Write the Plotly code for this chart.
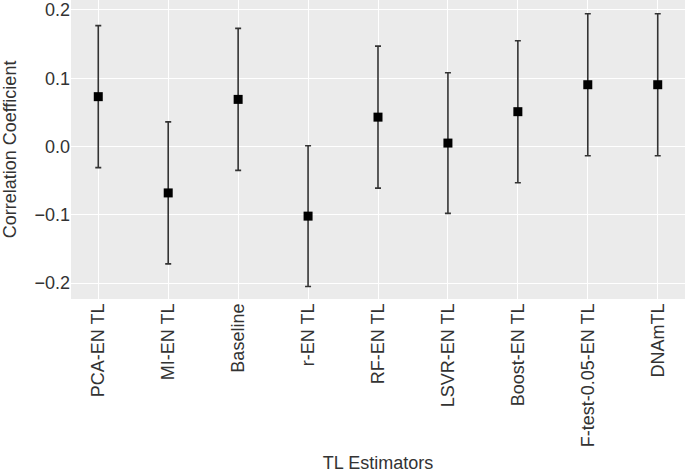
import plotly.graph_objects as go

estimators = ["PCA-EN TL", "MI-EN TL", "Baseline", "r-EN TL", "RF-EN TL",
              "LSVR-EN TL", "Boost-EN TL", "F-test-0.05-EN TL", "DNAmTL"]
corr_mean = [0.073, -0.068, 0.069, -0.102, 0.043, 0.005, 0.051, 0.0905, 0.0905]
corr_err = [0.104, 0.104, 0.104, 0.103, 0.104, 0.103, 0.104, 0.104, 0.104]
y_ticks = [-0.2, -0.1, 0.0, 0.1, 0.2]
y_tick_text = ["\u22120.2", "\u22120.1", "0.0", "0.1", "0.2"]

fig = go.Figure()
fig.add_trace(go.Scatter(
    x=list(range(len(estimators))), y=corr_mean,
    mode="markers",
    marker=dict(symbol="square", size=9, color="black"),
    error_y=dict(type="data", array=corr_err, visible=True,
                 color="#333333", thickness=1.6, width=3),
    showlegend=False,
))

font = "Liberation Sans, Arial, sans-serif"
fig.update_layout(
    width=685, height=473,
    margin=dict(l=71, r=0, t=0, b=174),
    paper_bgcolor="white", plot_bgcolor="#EBEBEB",
    font=dict(family=font, size=18, color="#333333"),
    xaxis=dict(
        range=[-0.39, 8.39], automargin=False,
        tickmode="array", tickvals=list(range(len(estimators))), ticktext=estimators,
        tickangle=-90, showgrid=True, gridcolor="white", gridwidth=1.2,
        zeroline=False, showline=False, ticks="",
        tickfont=dict(size=18, color="#333333"),
        title=dict(text="TL Estimators", font=dict(size=18, color="#333333")),
    ),
    yaxis=dict(
        range=[-0.2234, 0.2146], automargin=False,
        tickmode="array", tickvals=y_ticks, ticktext=y_tick_text,
        showgrid=True, gridcolor="white", gridwidth=1.2,
        zeroline=False, showline=False, ticks="",
        tickfont=dict(size=18, color="#333333"),
        title=dict(text="Correlation Coefficient", font=dict(size=18, color="#333333")),
    ),
)
fig.write_html("out.html",
               config={"displayModeBar": False},
               post_script="document.body.style.margin='0';document.body.style.overflow='hidden';")
